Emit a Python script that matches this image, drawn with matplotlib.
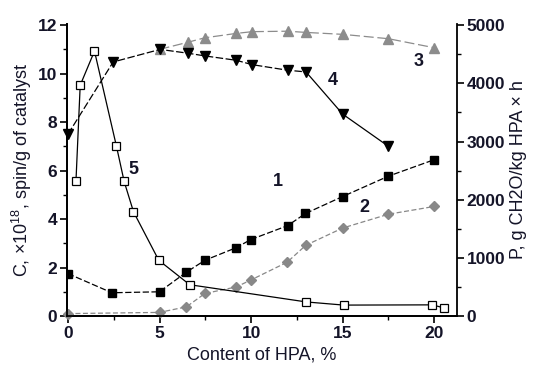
import numpy as np
import matplotlib
matplotlib.use('Agg')
import matplotlib.pyplot as plt
from matplotlib.ticker import MultipleLocator

plt.rcParams['font.family'] = ['Liberation Sans', 'DejaVu Sans']
plt.rcParams['mathtext.fontset'] = 'custom'
plt.rcParams['mathtext.rm'] = 'Liberation Sans'

# curve 1, C (left axis)
x1 = [0, 2.4, 5.0, 6.47, 7.48, 9.19, 9.97, 12.0, 12.97, 15.0, 17.5, 20.0]
y1 = [1.75, 0.96, 1.0, 1.81, 2.3, 2.82, 3.15, 3.73, 4.23, 4.93, 5.77, 6.45]

# curve 2, C (left axis)
x2 = [0, 5.0, 6.47, 7.48, 9.19, 10.0, 11.97, 12.99, 15.0, 17.5, 20.0]
y2 = [0.1, 0.15, 0.38, 0.93, 1.2, 1.49, 2.22, 2.92, 3.63, 4.2, 4.52]

# curve 3, P (right axis)
x3 = [5.0, 6.57, 7.48, 9.19, 10.06, 12.0, 13.0, 15.0, 17.5, 20.0]
y3 = [4583, 4708, 4783, 4858, 4888, 4896, 4875, 4842, 4767, 4612]

# curve 4, P (right axis)
x4 = [0, 2.47, 5.03, 6.57, 7.48, 9.19, 10.06, 12.0, 13.0, 15.0, 17.5]
y4 = [3125, 4367, 4583, 4517, 4471, 4396, 4321, 4225, 4196, 3471, 2917]

# curve 5, P (right axis)
x5 = [0.44, 0.67, 1.45, 2.65, 3.07, 3.58, 4.96, 6.65, 13.02, 15.06, 19.9, 20.55]
y5 = [2329, 3967, 4554, 2917, 2313, 1792, 958, 538, 242, 188, 192, 138]

txt = '#141428'

fig = plt.figure(figsize=(5.34, 3.74), dpi=100)
ax = fig.add_axes([0.1255, 0.155, 0.7305, 0.781])
ax2 = ax.twinx()

ax.set_xlim(-0.05, 21.25)
ax.set_ylim(0, 12.05)
ax2.set_ylim(0, 5000 * 12.05 / 12)

ax.plot(x1, y1, color='black', lw=0.9, dashes=(5, 2), marker='s', ms=5.3,
        mfc='black', mec='black', zorder=4)
ax.plot(x2, y2, color='#888888', lw=0.9, dashes=(4, 2), marker='D', ms=4.6,
        mfc='#888888', mec='#888888', zorder=3, clip_on=False)

ax2.plot(x3, y3, color='#8c8c8c', lw=0.9, dashes=(8, 3), marker='^', ms=7,
         mfc='#8c8c8c', mec='#8c8c8c', zorder=3)
ax2.plot(x4[:9], y4[:9], color='black', lw=0.9, dashes=(6, 2), zorder=4)
ax2.plot(x4[8:], y4[8:], color='black', lw=0.9, zorder=4)
ax2.plot(x4, y4, ls='none', marker='v', ms=7, mfc='black', mec='black',
         zorder=5, clip_on=False)
ax2.plot(x5, y5, color='black', lw=0.9, marker='s', ms=5.2, mfc='white',
         mec='black', mew=0.9, zorder=4)

# spines
for a in (ax, ax2):
    a.spines['top'].set_visible(False)
    for s in ('left', 'right', 'bottom'):
        a.spines[s].set_linewidth(1.3)
ax.spines['right'].set_visible(False)

ax.xaxis.set_major_locator(MultipleLocator(5))
ax.xaxis.set_minor_locator(MultipleLocator(2.5))
ax.yaxis.set_major_locator(MultipleLocator(2))
ax.yaxis.set_minor_locator(MultipleLocator(1))
ax2.yaxis.set_major_locator(MultipleLocator(1000))
ax2.yaxis.set_minor_locator(MultipleLocator(500))

for a in (ax, ax2):
    a.tick_params(which='major', direction='out', length=5, width=1.2,
                  labelsize=12.5, labelcolor=txt, pad=2)
    a.tick_params(which='minor', direction='out', length=3, width=1.0)
for lab in ax.get_xticklabels() + ax.get_yticklabels() + ax2.get_yticklabels():
    lab.set_fontweight('bold')

ax.set_xlabel('Content of HPA, %', fontsize=13, color=txt, labelpad=4)
ax.set_ylabel(r'C, $\times$10$^{18}$, spin/g of catalyst', fontsize=13,
              color=txt, labelpad=3)
ax2.set_ylabel(u'P, g CH2O/kg HPA \u00d7 h', fontsize=13, color=txt,
               labelpad=3)

# curve numbers
ax.text(11.44, 5.55, '1', fontsize=13, fontweight='bold', color=txt,
        ha='center', va='center')
ax.text(16.2, 4.47, '2', fontsize=13, fontweight='bold', color=txt,
        ha='center', va='center')
ax.text(19.13, 10.5, '3', fontsize=13, fontweight='bold', color=txt,
        ha='center', va='center')
ax.text(14.48, 9.7, '4', fontsize=13, fontweight='bold', color=txt,
        ha='center', va='center')
ax.text(3.6, 6.03, '5', fontsize=13, fontweight='bold', color=txt,
        ha='center', va='center')

fig.savefig('out.png', dpi=100)
